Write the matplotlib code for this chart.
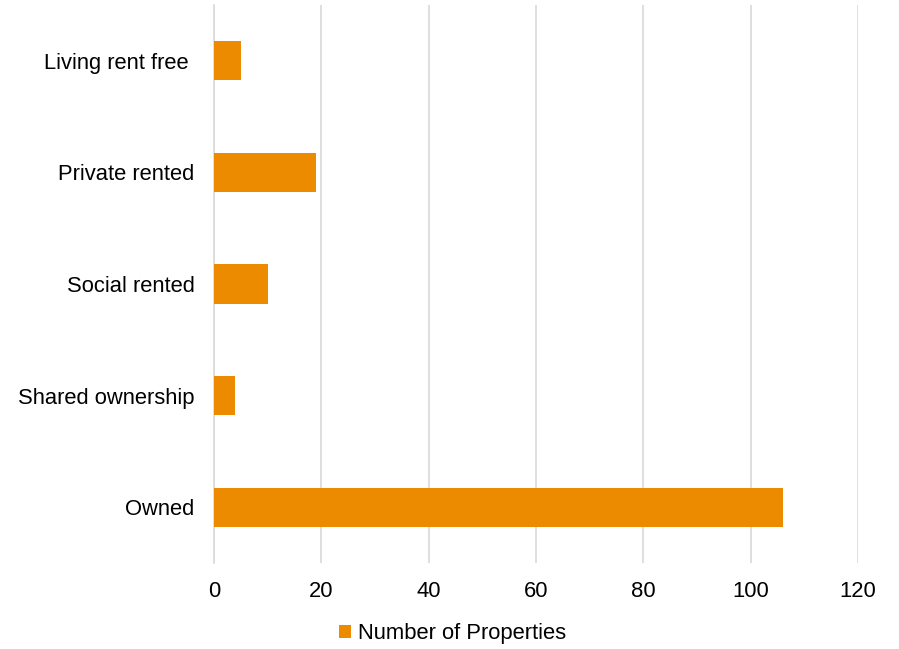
import numpy as np
import matplotlib
matplotlib.use("Agg")
import matplotlib.pyplot as plt

# Tenure categories, drawn bottom to top
categories = ["Owned", "Shared ownership", "Social rented", "Private rented", "Living rent free "]
counts = [106, 4, 10, 19, 5]
x_ticks = [0, 20, 40, 60, 80, 100, 120]

plt.rcParams['font.family'] = ['Liberation Sans', 'DejaVu Sans']

fig = plt.figure(figsize=(8.99, 6.49), dpi=100)
ax = fig.add_axes([214 / 899, 1 - 563 / 649, (858 - 214) / 899, (563 - 5) / 649])

y = np.arange(len(categories))
ax.barh(y, counts, height=0.35, color='#ED8B00', label='Number of Properties', zorder=3)

ax.set_xlim(0, 120)
ax.set_ylim(-0.5, len(categories) - 0.5)
ax.set_xticks(x_ticks)
ax.set_yticks(y)
ax.set_yticklabels(categories)
ax.tick_params(axis='both', length=0, labelsize=15.8, colors='black')
ax.tick_params(axis='y', pad=14)
ax.tick_params(axis='x', pad=13)

ax.grid(axis='x', color='#D9D9D9', linewidth=1.2, zorder=0)
for s in ['top', 'right', 'bottom']:
    ax.spines[s].set_visible(False)
ax.spines['left'].set_color('#D9D9D9')
ax.spines['left'].set_linewidth(1.2)

fig.legend(loc='center', bbox_to_anchor=(0.5 + 3 / 899, 1 - 634 / 649), frameon=False,
           fontsize=15.8, handlelength=0.55, handleheight=0.55, handletextpad=0.3)

fig.savefig('out.png', dpi=100)
